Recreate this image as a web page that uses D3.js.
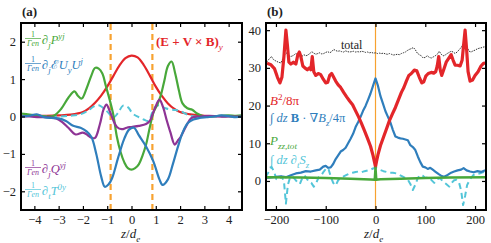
<!DOCTYPE html>
<html><head><meta charset="utf-8">
<script src="https://cdn.jsdelivr.net/npm/d3@7"></script>
<style>
html,body{margin:0;padding:0;background:#fff;}
svg{display:block;}
text{font-family:"Liberation Serif","DejaVu Serif",serif;}
</style></head>
<body>
<svg id="c" width="491" height="243"></svg>
<script>
// ---------- DATA: panel (a) ----------
const aTicksX = [-4,-3,-2,-1,0,1,2,3,4];
const aTicksY = [-2,-1,0,1,2];
const aDashedZ = [-0.86, 0.86];

const aRedZ = [-4.55,-4,-3.5,-3,-2.5,-2,-1.75,-1.5,-1.25,-1,-0.75,-0.5,-0.25,0,0.25,0.5,0.75,1,1.25,1.5,1.75,2,2.5,3,3.5,4,4.55];
const aRedV = [0.02,0.02,0.02,0.03,0.05,0.12,0.22,0.37,0.56,0.8,1.08,1.36,1.56,1.63,1.58,1.38,1.1,0.8,0.55,0.35,0.21,0.12,0.05,0.02,0.01,0.01,0.0];

const aGreenZ = [-4.55,-4.2,-3.8,-3.5,-3.2,-2.9,-2.6,-2.35,-2.2,-2.05,-1.85,-1.65,-1.5,-1.35,-1.2,-1.05,-0.9,-0.75,-0.6,-0.45,-0.3,-0.15,0,0.15,0.3,0.45,0.6,0.75,0.9,1.05,1.2,1.35,1.5,1.65,1.8,1.95,2.1,2.3,2.5,2.7,2.9,3.2,3.6,4.0,4.3,4.55];
const aGreenV = [0.08,0.05,0.02,0.0,0.02,0.2,0.5,0.67,0.55,0.48,0.75,1.1,1.3,1.28,1.15,0.8,0.45,0.05,-0.55,-0.95,-1.22,-1.38,-1.42,-1.38,-1.28,-1.05,-0.75,-0.3,0.1,0.3,0.55,0.95,1.35,1.47,1.15,0.7,0.35,0.22,0.18,0.08,0.02,0.0,0.02,0.03,0.02,0.03];

const aBlueZ = [-4.55,-4.2,-3.9,-3.6,-3.3,-3.0,-2.7,-2.4,-2.1,-1.85,-1.65,-1.45,-1.25,-1.1,-0.95,-0.8,-0.55,-0.3,-0.1,0.1,0.3,0.6,0.9,1.15,1.28,1.5,1.7,1.92,2.13,2.33,2.55,2.8,3.1,3.4,3.7,4.0,4.3,4.55];
const aBlueV = [0.0,0.02,0.06,-0.02,-0.04,-0.05,-0.12,-0.25,-0.3,-0.4,-0.55,-1.0,-1.6,-1.88,-1.82,-1.65,-1.1,-0.6,-0.35,-0.3,-0.5,-0.8,-1.2,-1.68,-1.83,-1.68,-1.28,-0.79,-0.39,-0.17,-0.08,-0.04,-0.02,0.0,0.03,0.01,-0.02,0.0];

const aPurpleZ = [-4.55,-4.2,-3.8,-3.4,-3.1,-2.85,-2.6,-2.3,-2.0,-1.8,-1.65,-1.5,-1.3,-1.15,-1.03,-0.9,-0.75,-0.6,-0.4,-0.2,0,0.3,0.6,0.75,0.95,1.15,1.3,1.45,1.6,1.78,1.9,2.0,2.25,2.47,2.8,3.2,3.6,4.0,4.55];
const aPurpleV = [0.0,0.0,-0.02,-0.02,-0.05,-0.15,-0.3,-0.48,-0.43,-0.5,-0.57,-0.57,-0.2,0.19,0.32,0.15,-0.1,-0.28,-0.34,-0.3,-0.28,-0.25,-0.2,-0.12,0.2,0.45,0.25,-0.1,-0.42,-0.75,-0.65,-0.57,-0.26,-0.04,0.0,0.02,0.0,0.0,0.0];

const aCyanZ = [-4.55,-4,-3.5,-3,-2.5,-2.1,-1.8,-1.55,-1.35,-1.15,-0.95,-0.75,-0.55,-0.35,-0.15,0.05,0.3,0.5,0.7,0.85,1.0,1.15,1.4,1.7,2.0,2.3,2.6,3.0,3.5,4.0,4.55];
const aCyanV = [0.02,0.02,0.0,0.0,0.02,0.06,0.15,0.27,0.3,0.22,0.1,-0.03,0.1,0.29,0.25,0.08,-0.02,-0.08,-0.12,0.1,0.27,0.3,0.22,0.18,0.15,0.05,0.0,0.0,0.0,0.0,0.0];

// ---------- DATA: panel (b) ----------
const bTicksX = [-200,-100,0,100,200];
const bTicksY = [0,10,20,30,40];

const bRedZ = [-218,-210,-203,-197,-192,-188,-184,-180,-177,-174,-170,-165,-160,-156,-153,-150,-146,-142,-137,-133,-130,-127,-124,-120,-115,-110,-105,-100,-96,-92,-88,-84,-80,-75,-70,-64,-58,-52,-46,-40,-34,-28,-22,-16,-10,-5,-2,0,2,5,10,16,22,28,34,40,46,52,57,62,67,72,78,83,88,93,97,101,106,112,117,121,124,127,130,133,137,142,147,152,156,160,165,170,174,177,180,183,186,190,195,200,206,212,217,221];
const bRedV = [31.2,30.8,29.8,27.5,26.0,27.5,33,40,36,31.5,31,31.5,31,33.5,34.2,33,30.5,30,29.5,30,29.5,33,29,28,28.5,28.2,27,26,26.2,28,28.5,27.5,26.5,25.5,24.8,23.5,22.3,21.2,20.2,18.6,17,15.2,13.3,11.3,9.2,6.8,5,3.8,5.2,7,9.4,11.6,13.8,16,17.8,19.5,21.5,23.5,24.8,26.5,28,28.5,29.4,29.2,27.5,26,26.3,27.8,28.5,28.8,28.6,29,30.5,33,29.5,28,29.5,31.5,32.5,33.5,32,30.7,30.7,30.5,32,36,40,35,29,26.5,26.8,28,29,30.5,31.2,31.3];

const bBlueZ = [-218,-205,-190,-180,-170,-160,-150,-140,-130,-120,-112,-105,-100,-95,-90,-85,-80,-75,-70,-65,-60,-55,-50,-45,-40,-35,-30,-25,-20,-15,-10,-5,0,5,10,15,20,25,30,35,40,45,50,55,60,65,70,75,80,85,90,95,100,105,110,115,120,127,133,138,145,152,158,165,172,177,183,190,197,205,212,218,221];
const bBlueV = [0.8,1.0,1.2,1.0,1.5,2.0,2.2,2.6,2.5,2.8,3.0,3.8,4.0,3.5,3.6,4.5,5.8,6.8,7.8,8.2,8.8,10,11.2,12.5,14.3,15.6,17,18.6,19.9,21.5,23.2,25.2,27.2,25.2,22.5,20.5,18.5,17,15.5,13.5,11.8,11.5,11.3,11.2,11,10.8,9.5,9,8.2,6.5,5,3.8,3.6,3.2,3.5,3.0,2.5,1.8,1.3,1.1,1.6,2.2,2.5,2.8,3.0,3.4,2.8,2.5,2.3,2.6,2.4,2.7,2.8];

const bGreenZ = [-221,-150,-100,-50,-10,-1.5,0,1.5,10,50,100,150,222];
const bGreenV = [1.0,0.9,0.8,0.6,0.4,0.35,3.5,0.35,0.45,0.6,0.8,0.9,1.0];

const bCyanZ = [-221,-214,-209,-204,-199,-194,-189,-184,-180,-176,-172,-167,-162,-157,-152,-148,-143,-139,-134,-129,-124,-119,-114,-109,-104,-98,-94,-90,-85,-80,-75,-70,-64,-58,-52,-46,-40,-34,-28,-22,-16,-10,-5,0,5,10,16,22,28,35,42,48,54,60,65,70,75,80,85,90,95,100,106,112,118,124,130,136,142,148,153,158,163,168,172,176,180,184,190,197,204,210,215,222];
const bCyanV = [1.0,2.5,3.8,2.5,0.5,0.3,1.2,0,-6.0,-1.0,0.8,1.2,0.5,-0.3,-0.8,0.5,1.5,0.8,-0.2,-0.5,-1.5,-0.5,1.0,1.5,2.5,3.5,3.0,1.2,-0.5,-1.2,0.2,0.8,1.2,1.6,2.0,2.2,2.4,2.5,2.3,2.6,2.8,3.0,3.3,3.5,3.2,2.9,2.6,2.4,2.2,2.2,2.0,1.6,1.2,0.8,0.3,-0.8,-2.4,-1.0,0.8,1.6,1.4,0.8,1.0,0.3,-0.5,0.5,0.7,-0.2,-0.8,-1.5,-0.5,0.2,0.3,-0.5,-2.5,-6.4,-4,-1.1,0.5,1.6,2.0,2.0,2.3,2.5];

const bTotalZ = [-219,-214,-209,-205,-200,-195,-190,-186,-182,-178,-174,-170,-165,-160,-156,-152,-148,-144,-140,-136,-132,-128,-124,-120,-116,-112,-108,-104,-100,-96,-92,-88,-84,-80,-76,-72,-68,-64,-60,-56,-52,-48,-44,-40,-36,-32,-28,-24,-20,-16,-12,-8,-4,0,4,8,12,16,20,24,28,32,36,40,44,48,52,56,60,64,68,72,76,80,84,88,92,96,100,104,108,112,116,120,124,128,132,136,140,144,148,152,156,160,164,168,172,176,180,184,188,192,196,200,204,208,212,216,221];
const bTotalV = [31.5,32.3,33,32.2,31.8,31.5,31.3,32.5,33.5,34,33.2,33,33.3,33.8,33.5,33.2,33,33.5,33.2,33.4,33.8,34.3,33.9,33.6,33.8,34,33.7,33.8,34.1,34.3,34.0,34.3,34.9,34.6,34.4,34.5,34.3,34.2,34.5,34.3,34.2,34.3,34.4,34.2,34.3,34.2,34.4,34.3,34.1,34.2,34.0,34.1,33.9,34.0,33.8,33.9,33.8,33.9,33.7,33.6,33.8,33.6,33.4,33.5,33.6,33.5,33.8,34,34.2,34.6,34.9,35.1,35.4,34.8,33.9,33.5,33.2,32.6,32.8,33.2,32.8,32.6,32.9,33.2,33.6,34.4,33.6,33.2,33.4,33.8,34.1,34.4,34.2,33.8,34.2,34.8,35.4,36.3,37.3,35.5,34.4,34.2,34.5,34.7,35.0,35.2,35.3,35.5,35.6];

// ---------- STYLE ----------
const C = {red:"#e3262a", blue:"#2f7ebc", green:"#48a83a", purple:"#8e3495", cyan:"#53c5d8", orange:"#f7a230"};

const svg = d3.select("#c");

const xa = d3.scaleLinear([-4.55,4.55],[21,242]);
const ya = d3.scaleLinear([-2.5,2.5],[210,23]);
const xb = d3.scaleLinear([-220,222],[266,486]);
const yb = d3.scaleLinear([-7.7,41.9],[210,23]);

function clip(id,x,y){
  svg.append("clipPath").attr("id",id).append("rect")
    .attr("x",x.range()[0]).attr("y",y.range()[1])
    .attr("width",x.range()[1]-x.range()[0]).attr("height",y.range()[0]-y.range()[1]);
}
clip("ca",xa,ya); clip("cb",xb,yb);

function series(g,x,y,zs,vs,color,w,dash,curve){
  const pts = zs.map((z,i)=>[z,vs[i]]);
  g.append("path").datum(pts)
    .attr("fill","none").attr("stroke",color).attr("stroke-width",w)
    .attr("stroke-dasharray",dash||null).attr("stroke-linejoin","round")
    .attr("d",d3.line().x(d=>x(d[0])).y(d=>y(d[1])).curve(curve||d3.curveLinear));
}

function axes(x,y,tx,ty){
  const g = svg.append("g");
  const fs = "12.5px";
  const b = g.append("g").attr("transform",`translate(0,${y.range()[0]})`)
    .call(d3.axisBottom(x).tickValues(tx).tickSize(-4).tickPadding(5).tickFormat(d=>d3.format("")(d).replace("-","−")));
  const t = g.append("g").attr("transform",`translate(0,${y.range()[1]})`)
    .call(d3.axisTop(x).tickValues(tx).tickSize(-4).tickFormat(""));
  const l = g.append("g").attr("transform",`translate(${x.range()[0]},0)`)
    .call(d3.axisLeft(y).tickValues(ty).tickSize(-4).tickPadding(5).tickFormat(d=>String(d).replace("-","−")));
  const r = g.append("g").attr("transform",`translate(${x.range()[1]},0)`)
    .call(d3.axisRight(y).tickValues(ty).tickSize(-4).tickFormat(""));
  [b,t,l,r].forEach(s=>{ s.select(".domain").remove(); s.selectAll("line").attr("stroke","#000").attr("stroke-width",1.2);
    s.selectAll("text").attr("font-size",fs).attr("font-family","Liberation Serif").attr("fill","#222"); });
  g.append("rect").attr("x",x.range()[0]).attr("y",y.range()[1])
    .attr("width",x.range()[1]-x.range()[0]).attr("height",y.range()[0]-y.range()[1])
    .attr("fill","none").attr("stroke","#000").attr("stroke-width",2);
}

// math text helper
function mtext(g,x,y,parts,color,fs){
  const t = g.append("text").attr("x",x).attr("y",y).attr("fill",color).attr("font-size",fs);
  let cur = 0;
  parts.forEach(p=>{
    const s = p.s||"n";
    const off = s==="sub"? fs*0.28 : s==="sup"? -fs*0.42 : 0;
    const ts = t.append("tspan").text(p.t).attr("dy",off-cur);
    cur = off;
    if(s!=="n") ts.attr("font-size",fs*0.7);
    if(p.it) ts.attr("font-style","italic");
    if(p.b) ts.attr("font-weight","bold");
  });
  return t;
}
function frac(g,x,yMid,color){
  const w = 16;
  g.append("text").attr("x",x+w/2).attr("y",yMid-1.5).attr("text-anchor","middle")
    .attr("font-size",8).attr("fill",color).text("1");
  g.append("line").attr("x1",x).attr("x2",x+w).attr("y1",yMid).attr("y2",yMid)
    .attr("stroke",color).attr("stroke-width",0.7);
  g.append("text").attr("x",x+w/2).attr("y",yMid+7).attr("text-anchor","middle")
    .attr("font-size",8).attr("fill",color).attr("font-style","italic")
    .text("Γen");
  return x+w+1;
}

// ---------- PANEL (a) ----------
const ga = svg.append("g").attr("clip-path","url(#ca)");
const cr = d3.curveCatmullRom.alpha(0.5);
aDashedZ.forEach(z=>{
  ga.append("line").attr("x1",xa(z)).attr("x2",xa(z)).attr("y1",ya.range()[0]).attr("y2",ya.range()[1])
    .attr("stroke",C.orange).attr("stroke-width",2.2).attr("stroke-dasharray","6,4");
});
series(ga,xa,ya,aRedZ,aRedV,C.red,2.2,null,cr);
series(ga,xa,ya,aCyanZ,aCyanV,C.cyan,2,"6,4",cr);
series(ga,xa,ya,aGreenZ,aGreenV,C.green,2.2,null,cr);
series(ga,xa,ya,aPurpleZ,aPurpleV,C.purple,2.2,null,cr);
series(ga,xa,ya,aBlueZ,aBlueV,C.blue,2.2,null,cr);
axes(xa,ya,aTicksX,aTicksY);

const la = svg.append("g");
let xx = frac(la,25,38.5,C.green);
mtext(la,xx,44,[{t:"∂"},{t:"j",s:"sub",it:1},{t:"P",it:1},{t:"yj",s:"sup",it:1}],C.green,12.5);
xx = frac(la,25,63.5,C.blue);
mtext(la,xx,69,[{t:"∂"},{t:"j",s:"sub",it:1},{t:"ℰ"},{t:"U",it:1},{t:"y",s:"sub",it:1},{t:"U",it:1},{t:"j",s:"sup",it:1}],C.blue,12.5);
xx = frac(la,25,167.5,C.purple);
mtext(la,xx,173,[{t:"∂"},{t:"j",s:"sub",it:1},{t:"Q",it:1},{t:"yj",s:"sup",it:1}],C.purple,12.5);
xx = frac(la,25,189.5,C.cyan);
mtext(la,xx,195,[{t:"∂"},{t:"t",s:"sub",it:1},{t:"T",it:1},{t:"0y",s:"sup",it:1}],C.cyan,12.5);
mtext(la,156,46,[{t:"(E + V × B)",b:1},{t:"y",s:"sub",it:1}],C.red,13);

svg.append("text").attr("x",22).attr("y",16).attr("font-size",13).attr("font-weight","bold").attr("fill","#222").text("(a)");
mtext(svg,121,238,[{t:"z",it:1},{t:"/"},{t:"d",it:1},{t:"e",s:"sub",it:1}],"#222",13);

// ---------- PANEL (b) ----------
const gb = svg.append("g").attr("clip-path","url(#cb)");
gb.append("line").attr("x1",xb(0)).attr("x2",xb(0)).attr("y1",yb.range()[0]).attr("y2",yb.range()[1])
  .attr("stroke",C.orange).attr("stroke-width",1.2);
series(gb,xb,yb,bTotalZ,bTotalV,"#333",1,"1.5,1");
series(gb,xb,yb,bCyanZ,bCyanV,C.cyan,2,"6,4");
series(gb,xb,yb,bBlueZ,bBlueV,C.blue,2.2);
series(gb,xb,yb,bRedZ,bRedV,C.red,3.2);
series(gb,xb,yb,bGreenZ,bGreenV,C.green,2.5);
axes(xb,yb,bTicksX,bTicksY);

const lb = svg.append("g");
lb.append("text").attr("x",341).attr("y",49).attr("font-size",12).attr("fill","#222").text("total");
mtext(lb,270,105,[{t:"B",it:1},{t:"2",s:"sup"},{t:"/8π"}],C.red,13);
mtext(lb,270,122,[{t:"∫ "},{t:"dz",it:1},{t:" B",b:1},{t:" · ∇"},{t:"B",it:1},{t:"z",s:"sub",it:1},{t:"/4π"}],C.blue,12.5);
mtext(lb,270,145,[{t:"P",it:1},{t:"zz,tot",s:"sub",it:1}],C.green,13);
mtext(lb,270,164,[{t:"∫ "},{t:"dz",it:1},{t:" ∂"},{t:"t",s:"sub",it:1},{t:"S",it:1},{t:"z",s:"sub",it:1}],C.cyan,12.5);

svg.append("text").attr("x",267).attr("y",16).attr("font-size",13).attr("font-weight","bold").attr("fill","#222").text("(b)");
mtext(svg,364,238,[{t:"z",it:1},{t:"/"},{t:"d",it:1},{t:"e",s:"sub",it:1}],"#222",13);
</script>
</body></html>
